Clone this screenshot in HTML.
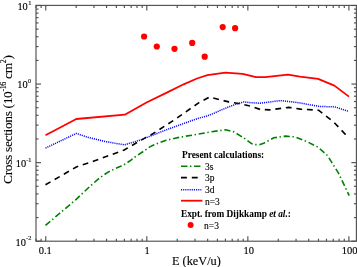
<!DOCTYPE html>
<html><head><meta charset="utf-8"><style>
html,body{margin:0;padding:0;background:#fff;}
svg{display:block;will-change:transform;}
text{font-family:"Liberation Serif",serif;fill:#000;stroke:#000;stroke-width:0.12px;}
</style></head><body>
<svg width="357" height="267" viewBox="0 0 357 267">
<g stroke="#505050" stroke-width="1.15" fill="none">
<rect x="36.0" y="5.4" width="320.4" height="235.79999999999998"/>
<line x1="35.96" y1="241.2" x2="35.96" y2="238.7"/><line x1="35.96" y1="5.4" x2="35.96" y2="7.9"/><line x1="41.13" y1="241.2" x2="41.13" y2="238.7"/><line x1="41.13" y1="5.4" x2="41.13" y2="7.9"/><line x1="45.75" y1="241.2" x2="45.75" y2="236.2"/><line x1="45.75" y1="5.4" x2="45.75" y2="10.4"/><line x1="76.17" y1="241.2" x2="76.17" y2="238.7"/><line x1="76.17" y1="5.4" x2="76.17" y2="7.9"/><line x1="93.96" y1="241.2" x2="93.96" y2="238.7"/><line x1="93.96" y1="5.4" x2="93.96" y2="7.9"/><line x1="106.59" y1="241.2" x2="106.59" y2="238.7"/><line x1="106.59" y1="5.4" x2="106.59" y2="7.9"/><line x1="116.38" y1="241.2" x2="116.38" y2="238.7"/><line x1="116.38" y1="5.4" x2="116.38" y2="7.9"/><line x1="124.38" y1="241.2" x2="124.38" y2="238.7"/><line x1="124.38" y1="5.4" x2="124.38" y2="7.9"/><line x1="131.15" y1="241.2" x2="131.15" y2="238.7"/><line x1="131.15" y1="5.4" x2="131.15" y2="7.9"/><line x1="137.01" y1="241.2" x2="137.01" y2="238.7"/><line x1="137.01" y1="5.4" x2="137.01" y2="7.9"/><line x1="142.18" y1="241.2" x2="142.18" y2="238.7"/><line x1="142.18" y1="5.4" x2="142.18" y2="7.9"/><line x1="146.80" y1="241.2" x2="146.80" y2="236.2"/><line x1="146.80" y1="5.4" x2="146.80" y2="10.4"/><line x1="177.22" y1="241.2" x2="177.22" y2="238.7"/><line x1="177.22" y1="5.4" x2="177.22" y2="7.9"/><line x1="195.01" y1="241.2" x2="195.01" y2="238.7"/><line x1="195.01" y1="5.4" x2="195.01" y2="7.9"/><line x1="207.64" y1="241.2" x2="207.64" y2="238.7"/><line x1="207.64" y1="5.4" x2="207.64" y2="7.9"/><line x1="217.43" y1="241.2" x2="217.43" y2="238.7"/><line x1="217.43" y1="5.4" x2="217.43" y2="7.9"/><line x1="225.43" y1="241.2" x2="225.43" y2="238.7"/><line x1="225.43" y1="5.4" x2="225.43" y2="7.9"/><line x1="232.20" y1="241.2" x2="232.20" y2="238.7"/><line x1="232.20" y1="5.4" x2="232.20" y2="7.9"/><line x1="238.06" y1="241.2" x2="238.06" y2="238.7"/><line x1="238.06" y1="5.4" x2="238.06" y2="7.9"/><line x1="243.23" y1="241.2" x2="243.23" y2="238.7"/><line x1="243.23" y1="5.4" x2="243.23" y2="7.9"/><line x1="247.85" y1="241.2" x2="247.85" y2="236.2"/><line x1="247.85" y1="5.4" x2="247.85" y2="10.4"/><line x1="278.27" y1="241.2" x2="278.27" y2="238.7"/><line x1="278.27" y1="5.4" x2="278.27" y2="7.9"/><line x1="296.06" y1="241.2" x2="296.06" y2="238.7"/><line x1="296.06" y1="5.4" x2="296.06" y2="7.9"/><line x1="308.69" y1="241.2" x2="308.69" y2="238.7"/><line x1="308.69" y1="5.4" x2="308.69" y2="7.9"/><line x1="318.48" y1="241.2" x2="318.48" y2="238.7"/><line x1="318.48" y1="5.4" x2="318.48" y2="7.9"/><line x1="326.48" y1="241.2" x2="326.48" y2="238.7"/><line x1="326.48" y1="5.4" x2="326.48" y2="7.9"/><line x1="333.25" y1="241.2" x2="333.25" y2="238.7"/><line x1="333.25" y1="5.4" x2="333.25" y2="7.9"/><line x1="339.11" y1="241.2" x2="339.11" y2="238.7"/><line x1="339.11" y1="5.4" x2="339.11" y2="7.9"/><line x1="344.28" y1="241.2" x2="344.28" y2="238.7"/><line x1="344.28" y1="5.4" x2="344.28" y2="7.9"/><line x1="348.90" y1="241.2" x2="348.90" y2="236.2"/><line x1="348.90" y1="5.4" x2="348.90" y2="10.4"/><line x1="36.0" y1="241.21" x2="41.0" y2="241.21"/><line x1="356.4" y1="241.21" x2="351.4" y2="241.21"/><line x1="36.0" y1="217.56" x2="38.5" y2="217.56"/><line x1="356.4" y1="217.56" x2="353.9" y2="217.56"/><line x1="36.0" y1="203.72" x2="38.5" y2="203.72"/><line x1="356.4" y1="203.72" x2="353.9" y2="203.72"/><line x1="36.0" y1="193.91" x2="38.5" y2="193.91"/><line x1="356.4" y1="193.91" x2="353.9" y2="193.91"/><line x1="36.0" y1="186.29" x2="38.5" y2="186.29"/><line x1="356.4" y1="186.29" x2="353.9" y2="186.29"/><line x1="36.0" y1="180.07" x2="38.5" y2="180.07"/><line x1="356.4" y1="180.07" x2="353.9" y2="180.07"/><line x1="36.0" y1="174.81" x2="38.5" y2="174.81"/><line x1="356.4" y1="174.81" x2="353.9" y2="174.81"/><line x1="36.0" y1="170.25" x2="38.5" y2="170.25"/><line x1="356.4" y1="170.25" x2="353.9" y2="170.25"/><line x1="36.0" y1="166.24" x2="38.5" y2="166.24"/><line x1="356.4" y1="166.24" x2="353.9" y2="166.24"/><line x1="36.0" y1="162.64" x2="41.0" y2="162.64"/><line x1="356.4" y1="162.64" x2="351.4" y2="162.64"/><line x1="36.0" y1="138.99" x2="38.5" y2="138.99"/><line x1="356.4" y1="138.99" x2="353.9" y2="138.99"/><line x1="36.0" y1="125.15" x2="38.5" y2="125.15"/><line x1="356.4" y1="125.15" x2="353.9" y2="125.15"/><line x1="36.0" y1="115.34" x2="38.5" y2="115.34"/><line x1="356.4" y1="115.34" x2="353.9" y2="115.34"/><line x1="36.0" y1="107.72" x2="38.5" y2="107.72"/><line x1="356.4" y1="107.72" x2="353.9" y2="107.72"/><line x1="36.0" y1="101.50" x2="38.5" y2="101.50"/><line x1="356.4" y1="101.50" x2="353.9" y2="101.50"/><line x1="36.0" y1="96.24" x2="38.5" y2="96.24"/><line x1="356.4" y1="96.24" x2="353.9" y2="96.24"/><line x1="36.0" y1="91.68" x2="38.5" y2="91.68"/><line x1="356.4" y1="91.68" x2="353.9" y2="91.68"/><line x1="36.0" y1="87.67" x2="38.5" y2="87.67"/><line x1="356.4" y1="87.67" x2="353.9" y2="87.67"/><line x1="36.0" y1="84.07" x2="41.0" y2="84.07"/><line x1="356.4" y1="84.07" x2="351.4" y2="84.07"/><line x1="36.0" y1="60.42" x2="38.5" y2="60.42"/><line x1="356.4" y1="60.42" x2="353.9" y2="60.42"/><line x1="36.0" y1="46.58" x2="38.5" y2="46.58"/><line x1="356.4" y1="46.58" x2="353.9" y2="46.58"/><line x1="36.0" y1="36.77" x2="38.5" y2="36.77"/><line x1="356.4" y1="36.77" x2="353.9" y2="36.77"/><line x1="36.0" y1="29.15" x2="38.5" y2="29.15"/><line x1="356.4" y1="29.15" x2="353.9" y2="29.15"/><line x1="36.0" y1="22.93" x2="38.5" y2="22.93"/><line x1="356.4" y1="22.93" x2="353.9" y2="22.93"/><line x1="36.0" y1="17.67" x2="38.5" y2="17.67"/><line x1="356.4" y1="17.67" x2="353.9" y2="17.67"/><line x1="36.0" y1="13.11" x2="38.5" y2="13.11"/><line x1="356.4" y1="13.11" x2="353.9" y2="13.11"/><line x1="36.0" y1="9.10" x2="38.5" y2="9.10"/><line x1="356.4" y1="9.10" x2="353.9" y2="9.10"/><line x1="36.0" y1="5.50" x2="41.0" y2="5.50"/><line x1="356.4" y1="5.50" x2="351.4" y2="5.50"/>
</g>
<g fill="none" stroke-linejoin="round">
<polyline points="45.5,225.4 76.2,199.3 90.0,186.3 97.6,179.6 103.2,175.4 108.9,171.7 115.6,168.5 121.2,166.1 125.5,163.9 131.3,159.8 133.5,158.0 142.5,152.0 149.8,146.9 153.7,145.0 159.3,142.6 165.4,140.5 175.0,138.2 185.0,136.3 196.9,134.4 210.4,131.9 225.5,129.8 234.0,131.9 245.1,138.8 251.5,143.6 255.0,144.6 260.0,144.6 263.0,143.6 273.8,137.8 285.6,136.1 295.0,136.9 306.9,141.6 318.1,147.2 327.5,155.6 336.0,169.2 338.5,173.1 349.2,195.6" stroke="#008000" stroke-width="1.6" stroke-dasharray="6.2 2.6 1.4 2.8"/>
<polyline points="45.5,184.8 76.3,167.0 93.4,161.2 123.7,150.2 145.6,137.6 150.1,135.5 173.7,120.3 199.0,102.6 209.3,97.1 228.7,101.9 238.8,103.5 250.6,106.1 260.1,109.4 269.4,109.9 288.8,107.4 300.6,109.1 318.5,110.2 333.7,122.0 346.4,135.5 349.0,138.0" stroke="#000" stroke-width="1.6" stroke-dasharray="5.8 4.8"/>
<polyline points="45.5,148.1 76.3,133.4 86.8,137.0 103.6,141.2 115.4,143.3 124.6,144.8 140.0,140.2 147.0,137.4 165.3,130.2 190.6,121.0 199.0,118.1 206.9,116.1 214.0,113.2 220.3,110.4 228.0,107.2 235.5,104.4 243.9,101.9 250.0,102.6 260.1,103.2 280.4,100.6 288.8,101.5 300.0,102.9 310.0,104.8 320.2,106.5 334.6,106.8 348.9,111.5" stroke="#0000ff" stroke-width="1.5" stroke-dasharray="1.1 1.0"/>
<polyline points="45.5,135.3 76.3,119.0 124.8,114.7 146.5,102.5 166.8,92.6 183.6,84.3 197.0,78.5 207.4,75.1 225.4,72.7 242.6,73.8 256.0,77.2 265.3,77.2 288.0,74.6 300.0,76.6 318.1,78.8 334.4,85.6 349.0,96.6" stroke="#ff0000" stroke-width="1.8"/>
</g>
<g fill="#ff0000">
<circle cx="144.1" cy="36.5" r="3.1"/><circle cx="156.8" cy="46.5" r="3.1"/><circle cx="174.5" cy="48.8" r="3.1"/><circle cx="192.2" cy="42.9" r="3.1"/><circle cx="204.7" cy="56.7" r="3.1"/><circle cx="222.7" cy="27.1" r="3.1"/><circle cx="235.1" cy="28.2" r="3.1"/>
<circle cx="190.6" cy="225.1" r="3"/>
</g>
<!-- legend -->
<g fill="none">
<line x1="181" y1="166.3" x2="201" y2="166.3" stroke="#008000" stroke-width="1.5" stroke-dasharray="6.4 2.6 1.4 2.6"/>
<line x1="181" y1="177.6" x2="198" y2="177.6" stroke="#000" stroke-width="1.6" stroke-dasharray="5.9 4.9"/>
<line x1="181" y1="189.7" x2="201.3" y2="189.7" stroke="#0000ff" stroke-width="1.4" stroke-dasharray="1.1 1.05"/>
<line x1="181" y1="200.7" x2="202.4" y2="200.7" stroke="#ff0000" stroke-width="1.8"/>
</g>
<text x="182" y="158.2" font-size="9.3" font-weight="bold" style="stroke-width:0.04px">Present calculations:</text>
<text x="205" y="169.7" font-size="9.5">3s</text>
<text x="205" y="181.3" font-size="9.5">3p</text>
<text x="205" y="192.7" font-size="9.5">3d</text>
<text x="205" y="204.6" font-size="9.5">n=3</text>
<text x="181" y="216.8" font-size="9.3" font-weight="bold" style="stroke-width:0.04px">Expt. from Dijkkamp <tspan font-style="italic">et al.</tspan>:</text>
<text x="204.1" y="228.6" font-size="9.5">n=3</text>
<!-- y tick labels -->
<g font-size="10.4">
<text x="17.4" y="9.6">10</text><text x="28.2" y="5.0" font-size="6.4">1</text>
<text x="17.3" y="87.8">10</text><text x="28.1" y="83.4" font-size="6.4">0</text>
<text x="15.8" y="167.1">10</text><text x="26.2" y="161.8" font-size="6.4">-1</text>
<text x="15.5" y="245.5">10</text><text x="26" y="240.2" font-size="6.4">-2</text>
</g>
<g font-size="10.5" text-anchor="middle">
<text x="45.3" y="254.4">0.1</text>
<text x="147" y="254.4">1</text>
<text x="248.7" y="254.4">10</text>
<text x="349.6" y="254.4">100</text>
</g>
<text x="172.0" y="264.6" font-size="12.3">E (keV/u)</text>
<text transform="translate(11.6,183.9) rotate(-90)" font-size="13.5" letter-spacing="-0.37">Cross sections (10<tspan font-size="8" dy="-6">-16</tspan><tspan dy="6"> cm</tspan><tspan font-size="8" dy="-6">2</tspan><tspan dy="6">)</tspan></text>
</svg>
</body></html>
